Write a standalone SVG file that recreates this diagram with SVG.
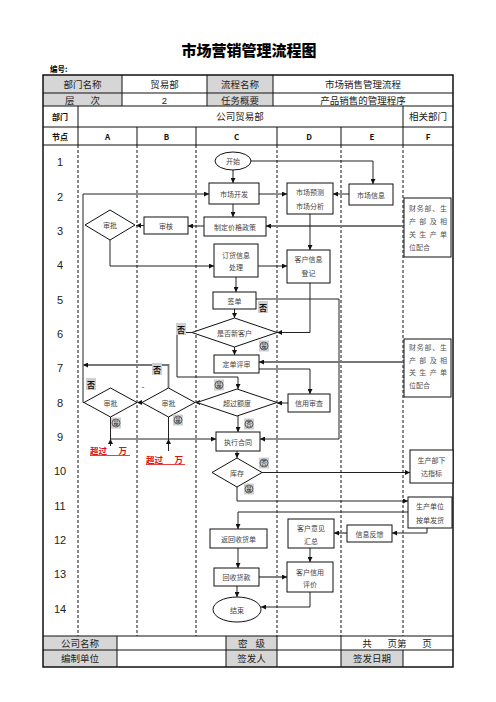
<svg xmlns="http://www.w3.org/2000/svg" width="496" height="702" viewBox="0 0 496 702">
<defs>
<marker id="a" viewBox="0 0 6 6" refX="6" refY="3" markerWidth="5" markerHeight="5" markerUnits="userSpaceOnUse" orient="auto"><path d="M0,0 L6,3 L0,6 z" fill="#111"/></marker>
<style>
.h{font-family:"Liberation Sans","Noto Sans CJK SC",sans-serif;font-size:9.5px;fill:#222;text-anchor:middle;dominant-baseline:central}
.hb{font-family:"Noto Sans CJK SC",sans-serif;font-size:8px;font-weight:bold;fill:#111;text-anchor:middle;dominant-baseline:central}
.num{font-family:"Liberation Sans",sans-serif;font-size:11px;fill:#222;text-anchor:middle;dominant-baseline:central}
.sh{fill:#d6d6d6}
.tl{stroke:#111;stroke-width:1;fill:none}
.dl{stroke:#111;stroke-width:1;stroke-dasharray:3,2;fill:none}
.nd{fill:#fff;stroke:#111;stroke-width:1}
.t{font-family:"Noto Sans CJK SC",sans-serif;font-size:7px;fill:#444;text-anchor:middle;dominant-baseline:central}
.tf{font-family:"Noto Sans CJK SC",sans-serif;font-size:7px;fill:#555}
.c{fill:none;stroke:#222;stroke-width:1;marker-end:url(#a)}
.g{fill:none;stroke:#777;stroke-width:1.8;marker-end:url(#a)}
.p{fill:none;stroke:#222;stroke-width:1}
.nb{fill:#cfcfcf}
.nt{font-family:"Noto Sans CJK SC",sans-serif;font-size:8px;font-weight:bold;fill:#111;text-anchor:middle;dominant-baseline:central}
.ct{font-family:"Noto Sans CJK SC",sans-serif;font-size:5.5px;fill:#222;text-anchor:middle;dominant-baseline:central}
.cc{fill:none;stroke:#333;stroke-width:0.7}
.red{font-family:"Noto Sans CJK SC",sans-serif;font-size:8.5px;fill:#e01010;font-weight:bold}
</style>
</defs>
<rect width="496" height="702" fill="#fff"/>
<text x="249" y="49" font-family="Noto Sans CJK SC,sans-serif" font-size="15" font-weight="900" text-anchor="middle" dominant-baseline="central" fill="#000">市场营销管理流程图</text>
<text x="50" y="68" font-family="Noto Sans CJK SC,sans-serif" font-size="7.5" font-weight="bold" dominant-baseline="central" fill="#000">编号:</text>

<g id="table">
<rect class="sh" x="43" y="75" width="79" height="31"/>
<rect class="sh" x="207" y="75" width="66" height="31"/>
<rect class="sh" x="43" y="636" width="74" height="31"/>
<rect class="sh" x="226" y="636" width="51" height="31"/>
<rect class="sh" x="341" y="650" width="62" height="17"/>
<rect x="43" y="75" width="410" height="592" fill="none" stroke="#111" stroke-width="1.5"/>
<path class="tl" d="M43,93H453M43,106H453M43,127H453M43,145H453M43,636H453M43,650H453"/>
<path class="tl" d="M122,75V106M207,75V106M273,75V106M78,106V145M403,106V145M137,127V145M196,127V145M277,127V145M341,127V145"/>
<path class="tl" d="M117,636V667M226,636V667M277,636V667M341,636V667M403,650V667"/>
<path class="dl" d="M78,145V636M137,145V636M196,145V636M277,145V636M341,145V636M403,145V636"/>
<text class="h" x="82.5" y="84.5">部门名称</text>
<text class="h" x="164.5" y="84.5">贸易部</text>
<text class="h" x="240" y="84.5">流程名称</text>
<text class="h" x="363" y="84.5">市场销售管理流程</text>
<text class="h" x="82.5" y="100" xml:space="preserve">层      次</text>
<text class="h" x="164.5" y="100">2</text>
<text class="h" x="240" y="100">任务概要</text>
<text class="h" x="363" y="100">产品销售的管理程序</text>
<text class="hb" x="60" y="116.5">部门</text>
<text class="h" x="240" y="116.5">公司贸易部</text>
<text class="h" x="428" y="116.5">相关部门</text>
<text class="hb" x="60" y="136">节点</text>
<text class="hb" x="107.5" y="136">A</text>
<text class="hb" x="166.5" y="136">B</text>
<text class="hb" x="236.5" y="136">C</text>
<text class="hb" x="309" y="136">D</text>
<text class="hb" x="372" y="136">E</text>
<text class="hb" x="428" y="136">F</text>
<text class="num" x="60" y="162">1</text>
<text class="num" x="60" y="196.5">2</text>
<text class="num" x="60" y="231">3</text>
<text class="num" x="60" y="265">4</text>
<text class="num" x="60" y="299.5">5</text>
<text class="num" x="60" y="334">6</text>
<text class="num" x="60" y="368">7</text>
<text class="num" x="60" y="402.5">8</text>
<text class="num" x="60" y="437">9</text>
<text class="num" x="60" y="471">10</text>
<text class="num" x="60" y="506">11</text>
<text class="num" x="60" y="540">12</text>
<text class="num" x="60" y="574">13</text>
<text class="num" x="60" y="609">14</text>
<text class="h" x="80" y="643">公司名称</text>
<text class="h" x="251.5" y="643" xml:space="preserve">密   级</text>
<text class="h" x="397" y="643" xml:space="preserve">共      页第      页</text>
<text class="h" x="80" y="658.5">编制单位</text>
<text class="h" x="251.5" y="658.5">签发人</text>
<text class="h" x="372" y="658.5">签发日期</text>
</g>

<g id="connectors">
<path class="c" d="M233,170V183"/>
<path class="c" d="M251,161H373V184"/>
<path class="c" d="M259,194H287"/>
<path class="c" d="M349,194H333"/>
<path class="c" d="M233,204V217"/>
<path class="g" d="M404,226H266"/>
<path class="c" d="M204,226H188"/>
<path class="c" d="M144,225.5H136"/>
<path class="c" d="M110,240V266H214"/>
<path class="c" d="M84,402.5H83V194H209"/>
<path class="c" d="M258,266H287"/>
<path class="c" d="M236,277V292"/>
<path class="c" d="M310,214V250"/>
<path class="c" d="M310,283V332.5H277"/>
<path class="c" d="M234.5,309V318"/>
<path class="c" d="M256,299H339V439H260"/>
<path class="c" d="M234.5,347V355"/>
<path class="c" d="M192,332.5H177V377H238V389"/>
<path class="g" d="M404,362H259"/>
<path class="c" d="M259,369H310V394"/>
<path class="c" d="M288,403H277"/>
<path d="M195,402.5L200,400L200,405Z" fill="#111"/>
<path d="M137,402.5L142,400L142,405Z" fill="#111"/>
<path class="c" d="M238,416V432"/>
<path class="c" d="M110.5,417V439H216"/>
<path class="c" d="M110.5,446V439"/>
<path class="p" d="M168.5,417V439"/>
<path class="c" d="M168.5,451V439"/>
<path class="g" d="M168.5,388V365H83"/>
<path class="c" d="M237,451V458"/>
<path class="c" d="M262,472.5H410"/>
<path class="c" d="M237,487V501H408"/>
<path class="c" d="M408,512H238V529"/>
<path class="c" d="M427,528V533H392"/>
<path class="g" d="M347,533H334"/>
<path class="c" d="M310,548V562"/>
<path class="c" d="M238,548V568"/>
<path class="g" d="M259,577H287"/>
<path class="c" d="M237,586V597"/>
<path class="c" d="M310,592V607H261"/>
</g>

<g id="n-start"><ellipse class="nd" cx="233" cy="161" rx="18" ry="9"/><text class="t" x="233" y="161">开始</text></g>
<g id="n-mktdev"><rect class="nd" x="209" y="183" width="50" height="21"/><text class="t" x="234" y="193.5">市场开发</text></g>
<g id="n-forecast"><rect class="nd" x="287" y="183" width="46" height="31"/><text class="t" x="310" y="192">市场预测</text><text class="t" x="310" y="205.5">市场分析</text></g>
<g id="n-mktinfo"><rect class="nd" x="349" y="184" width="44" height="21"/><text class="t" x="371" y="194.5">市场信息</text></g>
<g id="n-f1"><rect class="nd" x="404" y="198" width="47" height="59"/>
<text class="tf" x="409" y="210.5" textLength="38">财务部、生</text>
<text class="tf" x="409" y="223.5" textLength="38">产部及相</text>
<text class="tf" x="409" y="236.5" textLength="38">关生产单</text>
<text class="tf" x="409" y="249.5">位配合</text></g>
<g id="n-pricing"><rect class="nd" x="204" y="217" width="62" height="19"/><text class="t" x="235" y="226.5">制定价格政策</text></g>
<g id="n-review"><rect class="nd" x="144" y="217" width="44" height="17"/><text class="t" x="166" y="225.5">审核</text></g>
<g id="n-approve3"><polygon class="nd" points="85,225 110,210 135,225 110,240"/><text class="t" x="110" y="225">审批</text></g>
<g id="n-order"><rect class="nd" x="214" y="244" width="44" height="33"/><text class="t" x="236" y="254.5">订货信息</text><text class="t" x="236" y="267">处理</text></g>
<g id="n-custinfo"><rect class="nd" x="287" y="250" width="43" height="33"/><text class="t" x="308.5" y="259">客户信息</text><text class="t" x="308.5" y="273">登记</text></g>
<g id="n-sign"><rect class="nd" x="213" y="292" width="43" height="17"/><text class="t" x="234.5" y="300.5">签单</text></g>
<g id="n-newcust"><polygon class="nd" points="192,332.5 234.5,318 277,332.5 234.5,347"/><text class="t" x="234.5" y="332.5">是否新客户</text></g>
<g id="n-ordrev"><rect class="nd" x="214" y="355" width="45" height="18"/><text class="t" x="236.5" y="364">定单评审</text></g>
<g id="n-f2"><rect class="nd" x="404" y="339" width="47" height="58"/>
<text class="tf" x="409" y="350" textLength="38">财务部、生</text>
<text class="tf" x="409" y="362.5" textLength="38">产部及相</text>
<text class="tf" x="409" y="375" textLength="38">关生产单</text>
<text class="tf" x="409" y="387.5">位配合</text></g>
<g id="n-exceed"><polygon class="nd" points="197,402.5 237,389 277,402.5 237,416"/><text class="t" x="237" y="402.5">超过额度</text></g>
<g id="n-credit"><rect class="nd" x="288" y="394" width="42" height="18"/><text class="t" x="309" y="403">信用审查</text></g>
<g id="n-approveB"><polygon class="nd" points="142,402.5 168.5,388 195,402.5 168.5,417"/><text class="t" x="168.5" y="402.5">审批</text></g>
<g id="n-approveA"><polygon class="nd" points="84,402.5 110.5,388 137,402.5 110.5,417"/><text class="t" x="110.5" y="402.5">审批</text></g>
<g id="n-exec"><rect class="nd" x="216" y="432" width="44" height="19"/><text class="t" x="238" y="441.5">执行合同</text></g>
<g id="n-stock"><polygon class="nd" points="212,472.5 237,458 262,472.5 237,487"/><text class="t" x="237" y="472.5">库存</text></g>
<g id="n-prodind"><rect class="nd" x="410" y="450" width="43" height="33"/><text class="t" x="431.5" y="460">生产部下</text><text class="t" x="431.5" y="473">达指标</text></g>
<g id="n-ship"><rect class="nd" x="408" y="497" width="44" height="31"/><text class="t" x="430" y="505.5">生产单位</text><text class="t" x="430" y="520">按单发货</text></g>
<g id="n-feedback"><rect class="nd" x="347" y="525" width="45" height="17"/><text class="t" x="369.5" y="533.5">信息反馈</text></g>
<g id="n-opinion"><rect class="nd" x="288" y="519" width="46" height="29"/><text class="t" x="311" y="528">客户意见</text><text class="t" x="311" y="541">汇总</text></g>
<g id="n-receipt"><rect class="nd" x="210" y="529" width="57" height="19"/><text class="t" x="238.5" y="538.5">返回收货单</text></g>
<g id="n-payment"><rect class="nd" x="214" y="568" width="45" height="18"/><text class="t" x="236.5" y="577">回收货款</text></g>
<g id="n-credeval"><rect class="nd" x="287" y="562" width="46" height="30"/><text class="t" x="310" y="571.5">客户信用</text><text class="t" x="310" y="584">评价</text></g>
<g id="n-end"><ellipse class="nd" cx="237" cy="609.5" rx="24" ry="12.5"/><text class="t" x="237" y="609.5">结束</text></g>

<g id="labels">
<rect class="nb" x="258" y="301" width="10" height="12"/><text class="nt" x="263" y="307">否</text>
<rect class="nb" x="176" y="323" width="10" height="12"/><text class="nt" x="181" y="329">否</text>
<rect class="nb" x="152" y="363" width="10" height="12"/><text class="nt" x="157" y="369">否</text>
<rect class="nb" x="86" y="378" width="10" height="12"/><text class="nt" x="91" y="384">否</text>
<rect class="nb" x="259" y="340.5" width="10" height="11"/><circle class="cc" cx="264" cy="346" r="4"/><text class="ct" x="264" y="346">是</text>
<rect class="nb" x="214" y="379.5" width="10" height="11"/><circle class="cc" cx="219" cy="385" r="4"/><text class="ct" x="219" y="385">是</text>
<rect class="nb" x="244" y="418.5" width="10" height="11"/><circle class="cc" cx="249" cy="424" r="4"/><text class="ct" x="249" y="424">否</text>
<rect class="nb" x="111" y="417.5" width="10" height="11"/><circle class="cc" cx="116" cy="423" r="4"/><text class="ct" x="116" y="423">是</text>
<rect class="nb" x="173" y="414.5" width="10" height="11"/><circle class="cc" cx="178" cy="420" r="4"/><text class="ct" x="178" y="420">是</text>
<rect class="nb" x="259" y="457.5" width="10" height="11"/><circle class="cc" cx="264" cy="463" r="4"/><text class="ct" x="264" y="463">否</text>
<rect class="nb" x="244" y="483.5" width="10" height="11"/><circle class="cc" cx="249" cy="489" r="4"/><text class="ct" x="249" y="489">是</text>
<text x="143" y="386" font-family="Liberation Sans,sans-serif" font-size="8" text-anchor="middle" dominant-baseline="central" fill="#222">-</text>
<text class="red" x="90" y="450" dominant-baseline="central" xml:space="preserve">超过      万</text>
<line x1="90" y1="455.5" x2="130" y2="455.5" stroke="#e01010" stroke-width="0.8"/>
<text class="red" x="146" y="459" dominant-baseline="central" xml:space="preserve">超过      万</text>
<line x1="146" y1="464.5" x2="185" y2="464.5" stroke="#e01010" stroke-width="0.8"/>
</g>
</svg>
